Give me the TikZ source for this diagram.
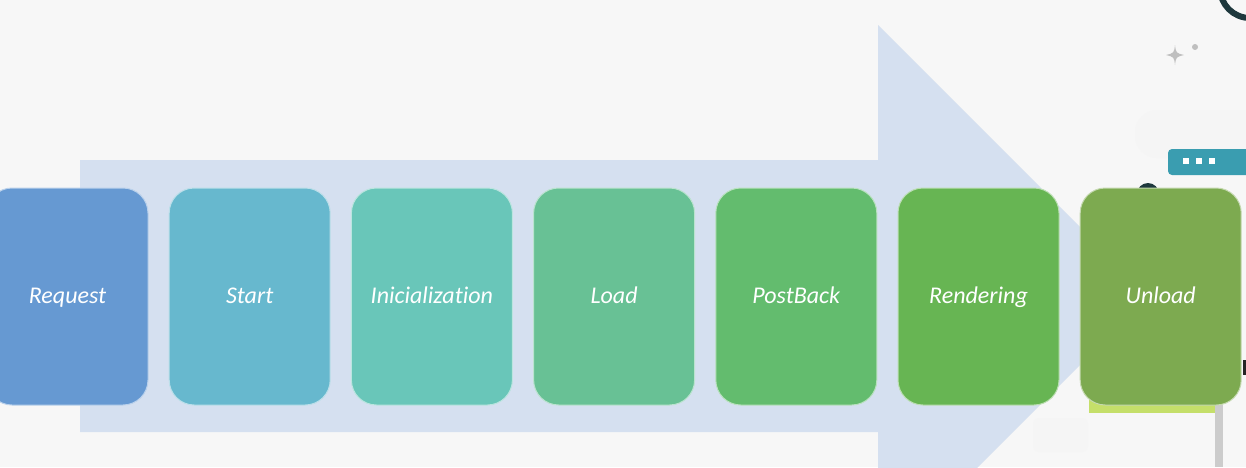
\documentclass[tikz,border=0pt]{standalone}
\usepackage{fontspec}
\setmainfont{Carlito}[Ligatures=NoCommon]
\usepackage{tikz}

\definecolor{bg}{HTML}{F7F7F7}
\definecolor{arrowblue}{HTML}{D5E0F0}
\definecolor{crequest}{HTML}{6699D2}
\definecolor{cstart}{HTML}{67B8CE}
\definecolor{cinit}{HTML}{69C6B9}
\definecolor{cload}{HTML}{68C195}
\definecolor{cpostback}{HTML}{63BC6E}
\definecolor{crendering}{HTML}{67B553}
\definecolor{cunload}{HTML}{7DAA50}
\definecolor{darkteal}{HTML}{1E383D}
\definecolor{barteal}{HTML}{3A9DB0}
\definecolor{lime}{HTML}{C5DF6A}

\begin{document}
\begin{tikzpicture}[x=1pt, y=-1pt,
	stage/.style={rounded corners=25pt, minimum width=161pt, minimum height=217pt,
		draw=white!55!#1, line width=1pt, fill=#1, text=white,
		text height=15pt, text depth=2pt,
		font=\fontsize{24}{28}\selectfont\itshape}]
	\useasboundingbox (0, 0) rectangle (1246, 467);
	\clip (0, 0) rectangle (1246, 467);
	\fill [bg] (0, 0) rectangle (1246, 467);
	
	% bits of the page behind, right edge
	\draw [darkteal, line width=6pt] (1250, -12) circle (30);
	\fill [black!25] (1175, 45) .. controls (1176, 53) .. (1184, 55) .. controls (1176, 57) .. (1175, 65) .. controls (1174, 57) .. (1166, 55) .. controls (1174, 53) .. (1175, 45);
	\fill [black!25] (1195, 47) circle (3);
	\fill [black!4, rounded corners=22pt] (1135, 110) rectangle (1270, 158);
	\fill [barteal, rounded corners=4pt] (1168, 149) rectangle (1260, 175);
	\fill [barteal] (1168, 165) rectangle (1260, 171);
	\foreach \x in {1183, 1196, 1209} {
		\fill [white] (\x, 158) rectangle (\x + 6, 164);
	}
	\fill [darkteal] (1148, 194) circle (11);
	\fill [barteal] (1148, 194) circle (5);
	\fill [lime] (1089, 398) rectangle (1215, 413);
	\fill [black!20] (1215, 405) rectangle (1223, 467);
	\fill [black!85] (1243, 360) rectangle (1250, 375);
	\fill [black!4, rounded corners=6pt] (1033, 418) rectangle (1088, 452);
	
	% big arrow
	\fill [arrowblue] (80, 160) -- (878, 160) -- (878, 25) -- (1149, 296)
		-- (878, 567) -- (878, 432) -- (80, 432) -- cycle;
	
	\foreach \i/\name/\txt in {0/request/Request, 1/start/Start, 2/init/Inicialization,
		3/load/Load, 4/postback/PostBack, 5/rendering/Rendering, 6/unload/Unload} {
		\node [stage=c\name] (\name) at (67.5 + 182.2*\i, 296.5) {\txt};
	}
\end{tikzpicture}
\end{document}
